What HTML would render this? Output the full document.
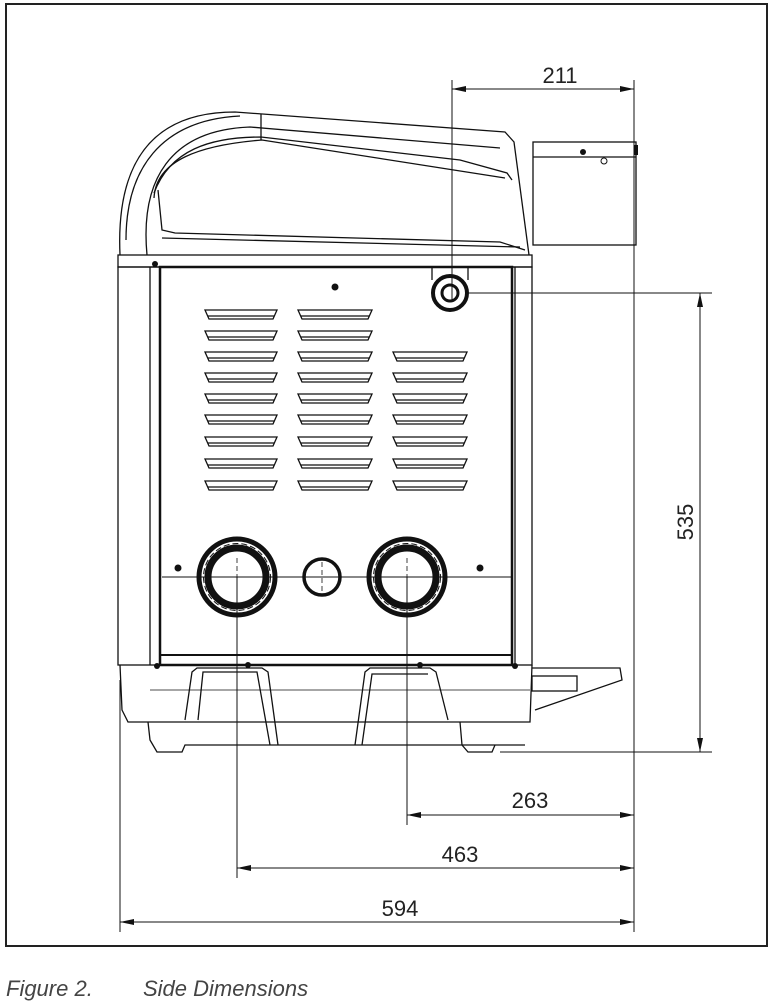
<!DOCTYPE html>
<html><head><meta charset="utf-8"><style>
html,body{margin:0;padding:0;background:#fff}
svg{display:block}
</style></head><body>
<svg width="773" height="1002" viewBox="0 0 773 1002" xmlns="http://www.w3.org/2000/svg" font-family="Liberation Sans, sans-serif">
<rect x="6" y="4" width="761" height="942" fill="none" stroke="#222" stroke-width="2"/>
<g fill="none" stroke="#111" stroke-width="1.3">
<!-- cover -->
<path d="M120 255 C116 165 150 112 235 112 L505 132 L514 142 L529 255"/>
<path d="M126 240 C126 170 160 120 240 116"/>
<path d="M147 255 C140 180 170 130 250 127 L500 148"/>
<path d="M154 193 C170 150 210 137 261 137 L460 160 L507 173 L512 180"/>
<path d="M154 198 C156 160 200 145 262 140 L505 178"/>
<line x1="261" y1="114" x2="261" y2="140"/>
<path d="M158 190 L162 230 L175 233 L500 242 L525 250"/>
<path d="M162 238 L520 247"/>
<rect x="118" y="255" width="414" height="12"/>
<!-- right box -->
<rect x="533" y="142" width="103" height="103"/>
<line x1="533" y1="157" x2="636" y2="157"/>
<!-- body -->
<rect x="118" y="267" width="414" height="398"/>
<line x1="150" y1="267" x2="150" y2="665"/>
<line x1="515" y1="267" x2="515" y2="665"/>
<rect x="160" y="267" width="352" height="398" stroke-width="2.5"/>
<line x1="160" y1="655" x2="512" y2="655" stroke-width="2"/>
<!-- base -->
<path d="M120 665 L122 710 L128 722 L530 722 L532 665"/>
<path d="M148 722 L150 740 L157 752 L182 752 L185 745 L525 745"/>
<line x1="150" y1="690" x2="530" y2="690" stroke-width="0.8"/>
<path d="M185 720 L192 672 L197 668 L262 668 L268 672 L278 745"/>
<path d="M198 720 L203 672 L257 672 L270 745"/>
<path d="M355 745 L365 672 L370 668 L430 668 L436 672 L448 720"/>
<path d="M362 745 L372 674 L428 674"/>
<path d="M460 722 L462 745 L468 752 L492 752 L495 745"/>
<path d="M532 668 L620 668 L622 680 L535 710"/>
<rect x="532" y="676" width="45" height="15"/>
</g>
<!-- vents -->
<g fill="none" stroke="#111" stroke-width="1.3">
<path d="M205 310h72l-4 9h-64z M205 331h72l-4 9h-64z M205 352h72l-4 9h-64z M205 373h72l-4 9h-64z M205 394h72l-4 9h-64z M205 415h72l-4 9h-64z M205 437h72l-4 9h-64z M205 459h72l-4 9h-64z M205 481h72l-4 9h-64z"/>
<path d="M298 310h74l-4 9h-66z M298 331h74l-4 9h-66z M298 352h74l-4 9h-66z M298 373h74l-4 9h-66z M298 394h74l-4 9h-66z M298 415h74l-4 9h-66z M298 437h74l-4 9h-66z M298 459h74l-4 9h-66z M298 481h74l-4 9h-66z"/>
<path d="M393 352h74l-4 9h-66z M393 373h74l-4 9h-66z M393 394h74l-4 9h-66z M393 415h74l-4 9h-66z M393 437h74l-4 9h-66z M393 459h74l-4 9h-66z M393 481h74l-4 9h-66z"/>
<path d="M208 316h66 M208 337h66 M208 358h66 M208 379h66 M208 400h66 M208 421h66 M208 443h66 M208 465h66 M208 487h66"/>
<path d="M301 316h68 M301 337h68 M301 358h68 M301 379h68 M301 400h68 M301 421h68 M301 443h68 M301 465h68 M301 487h68"/>
<path d="M396 358h68 M396 379h68 M396 400h68 M396 421h68 M396 443h68 M396 465h68 M396 487h68"/>
</g>
<!-- fittings -->
<g fill="none" stroke="#111">
<circle cx="237" cy="577" r="38" stroke-width="5"/>
<circle cx="237" cy="577" r="29" stroke-width="7"/>
<circle cx="237" cy="577" r="33.5" stroke-width="1" stroke-dasharray="6 3"/>
<circle cx="407" cy="577" r="38" stroke-width="5"/>
<circle cx="407" cy="577" r="29" stroke-width="7"/>
<circle cx="407" cy="577" r="33.5" stroke-width="1" stroke-dasharray="6 3"/>
<circle cx="322" cy="577" r="18" stroke-width="3.5"/>
<circle cx="450" cy="293" r="17" stroke-width="4"/>
<circle cx="450" cy="293" r="8" stroke-width="3"/>
<path d="M432 268 L432 280 M468 268 L468 280" stroke-width="1.3"/>
<line x1="162" y1="577" x2="512" y2="577" stroke-width="1"/>
<path d="M218 577h38 M237 558v38 M388 577h38 M407 558v38 M322 562v30" stroke-width="0.8" stroke-dasharray="5 3"/>
</g>
<g fill="#111">
<circle cx="335" cy="287" r="3.5"/><circle cx="178" cy="568" r="3.5"/><circle cx="480" cy="568" r="3.5"/>
<circle cx="583" cy="152" r="3"/><circle cx="155" cy="264" r="3"/>
<circle cx="157" cy="666" r="3"/><circle cx="248" cy="665" r="3"/><circle cx="420" cy="665" r="3"/><circle cx="515" cy="666" r="3"/>
<rect x="634" y="145" width="4" height="10"/>
</g>
<circle cx="604" cy="161" r="3" fill="none" stroke="#111"/>
<!-- dimensions -->
<g stroke="#111" stroke-width="1" fill="none">
<line x1="452" y1="80" x2="452" y2="300"/>
<line x1="634" y1="80" x2="634" y2="932"/>
<line x1="452" y1="89" x2="634" y2="89"/>
<line x1="465" y1="293" x2="712" y2="293"/>
<line x1="500" y1="752" x2="712" y2="752"/>
<line x1="700" y1="293" x2="700" y2="752"/>
<line x1="407" y1="577" x2="407" y2="825"/>
<line x1="407" y1="815" x2="634" y2="815"/>
<line x1="237" y1="577" x2="237" y2="878"/>
<line x1="237" y1="868" x2="634" y2="868"/>
<line x1="120" y1="680" x2="120" y2="932"/>
<line x1="120" y1="922" x2="634" y2="922"/>
</g>
<g fill="#111">
<path d="M452 89l14-3v6z M634 89l-14-3v6z"/>
<path d="M700 293l-3 14h6z M700 752l-3-14h6z"/>
<path d="M407 815l14-3v6z M634 815l-14-3v6z"/>
<path d="M237 868l14-3v6z M634 868l-14-3v6z"/>
<path d="M120 922l14-3v6z M634 922l-14-3v6z"/>
</g>
<g fill="#222" font-size="22" text-anchor="middle">
<text x="560" y="83">211</text>
<text x="530" y="808">263</text>
<text x="460" y="862">463</text>
<text x="400" y="916">594</text>
<text transform="translate(693,522) rotate(-90)">535</text>
</g>
<text x="6" y="996" font-size="22" font-style="italic" fill="#444">Figure 2.</text>
<text x="143" y="996" font-size="22" font-style="italic" fill="#444">Side Dimensions</text>
</svg>
</body></html>
